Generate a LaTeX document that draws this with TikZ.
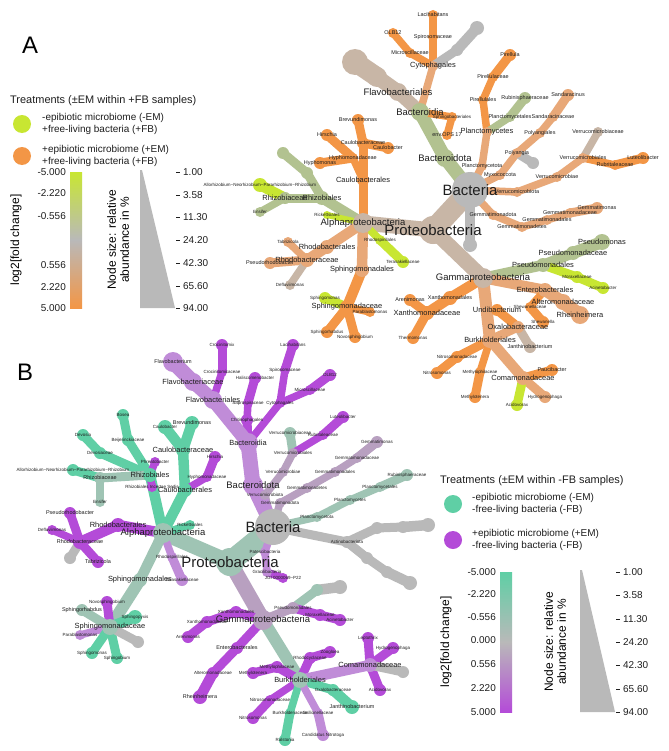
\documentclass[tikz,border=0pt]{standalone}
\usepackage{fontspec}
\setmainfont{Liberation Sans}
\pgfdeclarelayer{back}\pgfdeclarelayer{edge}\pgfdeclarelayer{circ}
\pgfsetlayers{back,edge,circ,main}
\definecolor{G}{RGB}{185,185,185}
\definecolor{T}{RGB}{200,182,166}
\definecolor{LO}{RGB}{232,168,120}
\definecolor{O}{RGB}{243,150,70}
\definecolor{S}{RGB}{178,194,144}
\definecolor{L}{RGB}{200,230,50}
\definecolor{P}{RGB}{180,75,216}
\definecolor{LP}{RGB}{192,140,216}
\definecolor{M}{RGB}{184,160,192}
\definecolor{TE}{RGB}{95,207,165}
\definecolor{GT}{RGB}{159,196,180}
\definecolor{TX}{RGB}{30,30,30}
\tikzset{
 lb0/.style={font=\fontsize{4.5}{5}\selectfont,text=TX,inner sep=0pt},
 lb1/.style={font=\fontsize{5.5}{6}\selectfont,text=TX,inner sep=0pt},
 lb2/.style={font=\fontsize{7.5}{8}\selectfont,text=TX,inner sep=0pt},
 lb3/.style={font=\fontsize{9.5}{10}\selectfont,text=TX,inner sep=0pt},
 lb4/.style={font=\fontsize{15}{16}\selectfont,text=TX,inner sep=0pt},
 leg/.style={font=\fontsize{10}{12}\selectfont,text=TX,align=left,anchor=west,inner sep=0pt},
 legt/.style={font=\fontsize{11}{12}\selectfont,text=TX,anchor=west,inner sep=0pt},
 tick/.style={font=\fontsize{10}{12}\selectfont,text=TX,anchor=west,inner sep=0pt},
 panel/.style={font=\fontsize{24}{26}\selectfont,text=black},
}
\newcommand\tn[8][lb1]{%
 \coordinate (#2) at (#3,#4);
 \begin{pgfonlayer}{edge}\draw[line width={1.5*#6 bp},draw=#7] (#5) -- (#2);\end{pgfonlayer}
 \begin{pgfonlayer}{circ}\fill[#7] (#2) circle (#6 bp);\end{pgfonlayer}
 \node[#1] (#2l) at (#2) {#8};}
\newcommand\tgp[6]{%
 \coordinate (#1) at (#2,#3);
 \begin{pgfonlayer}{edge}\draw[line width={1.5*#5 bp},draw=#6] (#4) -- (#1);\end{pgfonlayer}
 \begin{pgfonlayer}{circ}\fill[#6] (#1) circle (#5 bp);\end{pgfonlayer}}
\begin{document}
\begin{tikzpicture}[x=1bp,y=-1bp]
\useasboundingbox (0,0) rectangle (669,751);
\begin{pgfonlayer}{back}\fill[white] (0,0) rectangle (669,751);\end{pgfonlayer}
% ===== Panel A =====
\node[panel] (pA) at (30,45) {A};
\tn[lb4]{aBac}{470}{190}{aBac}{18}{G}{Bacteria}
\tn[lb4]{aPro}{433}{230}{aBac}{14}{T}{Proteobacteria}
\tn[lb3]{aBtd}{445}{158}{aBac}{9}{S}{Bacteroidota}
\tn[lb3]{aBti}{420}{112}{aBtd}{9}{S}{Bacteroidia}
\tn[lb3]{aFlv}{398}{92}{aBti}{9}{T}{Flavobacteriales}
\tgp{aFl2}{377}{77}{aFlv}{10}{T}
\tgp{aFl3}{355}{62}{aFl2}{13}{T}
\tn[lb2]{aCyt}{433}{66}{aBti}{5}{LO}{Cytophagales}
\tn{aSpi}{433}{37}{aCyt}{5}{O}{Spirosomaceae}
\tn{aLac}{433}{15}{aSpi}{5}{O}{Lacihabitans}
\tn{aMic}{410}{53}{aCyt}{5}{O}{Microscillaceae}
\tn{aOLB}{393}{33}{aMic}{5}{O}{OLB12}
\tgp{aCg1}{457}{50}{aCyt}{6}{G}
\tgp{aCg2}{477}{28}{aCg1}{7}{G}
\tn[lb0]{aSph}{452}{117}{aBti}{5}{O}{Sphingobacteriales}
\tn{aOPS}{447}{135}{aSph}{5}{O}{env.OPS 17}
\tn{aPlo}{482}{166}{aBac}{5}{LO}{Planctomycetota}
\tn[lb2]{aPle}{487}{132}{aPlo}{5}{LO}{Planctomycetes}
\tn{aPir}{483}{100}{aPle}{5}{O}{Pirellulales}
\tn{aPic}{493}{77}{aPir}{5}{O}{Pirellulaceae}
\tn{aPia}{510}{55}{aPic}{6}{O}{Pirellula}
\tn{aPls}{510}{117}{aPle}{5}{S}{Planctomycetales}
\tn{aRub}{525}{98}{aPls}{6}{S}{Rubinisphaeraceae}
\tn{aMyx}{500}{175}{aBac}{5}{LO}{Myxococcota}
\tn{aPoa}{517}{153}{aMyx}{5}{LO}{Polyangia}
\tn{aPos}{540}{133}{aPoa}{5}{LO}{Polyangiales}
\tn{aSac}{553}{117}{aPos}{5}{LO}{Sandaracinaceae}
\tn{aSan}{568}{95}{aSac}{6}{LO}{Sandaracinus}
\tgp{aMg}{533}{163}{aPoa}{6}{G}
\tn{aVta}{517}{192}{aBac}{5}{LO}{Verrucomicrobiota}
\tn[lb1]{aVae}{557}{177}{aVta}{5}{LO}{Verrucomicrobiae}
\tn[lb1]{aVls}{583}{158}{aVae}{5}{LO}{Verrucomicrobiales}
\tn{aVce}{598}{132}{aVls}{5}{T}{Verrucomicrobiaceae}
\tn{aRbt}{615}{165}{aVls}{5}{O}{Rubritaleaceae}
\tn{aLut}{643}{158}{aRbt}{6}{O}{Luteolibacter}
\tn{aGta}{493}{215}{aBac}{5}{LO}{Gemmatimonadota}
\tn{aGte}{522}{227}{aGta}{5}{LO}{Gemmatimonadetes}
\tn{aGls}{547}{220}{aGte}{5}{LO}{Gemmatimonadales}
\tn{aGce}{570}{213}{aGls}{5}{LO}{Gemmatimonadaceae}
\tn{aGms}{597}{208}{aGce}{6}{LO}{Gemmatimonas}
\tgp{aBg}{470}{245}{aBac}{7}{G}
\tn[lb3]{aAlp}{363}{223}{aPro}{10}{T}{Alphaproteobacteria}
\tn[lb2]{aCls}{363}{180}{aAlp}{6}{O}{Caulobacterales}
\tn{aCce}{363}{143}{aCls}{6}{O}{Caulobacteraceae}
\tn{aBre}{358}{120}{aCce}{6}{O}{Brevundimonas}
\tn{aCau}{388}{148}{aCce}{6}{O}{Caulobacter}
\tn{aHyc}{353}{158}{aCls}{5}{O}{Hyphomonadaceae}
\tn{aHir}{327}{135}{aHyc}{6}{O}{Hirschia}
\tn{aHym}{320}{163}{aHyc}{6}{O}{Hyphomonas}
\tn[lb2]{aRhl}{322}{198}{aAlp}{7}{S}{Rhizobiales}
\tn[lb2]{aRhc}{285}{198}{aRhl}{6}{S}{Rhizobiaceae}
\tn[lb0]{aAll}{260}{185}{aRhc}{7}{L}{Allorhizobium−Neorhizobium−Pararhizobium−Rhizobium}
\tn[lb0]{aEns}{260}{212}{aRhc}{5}{S}{Ensifer}
\tgp{aRg1}{307}{173}{aRhl}{6}{S}
\tgp{aRg2}{283}{153}{aRg1}{6}{S}
\tn[lb0]{aRic}{327}{215}{aAlp}{4}{L}{Rickettsiales}
\tn[lb2]{aRbl}{327}{247}{aAlp}{7}{LO}{Rhodobacterales}
\tn[lb2]{aRbc}{307}{260}{aRbl}{7}{LO}{Rhodobacteraceae}
\tn[lb0]{aTab}{288}{242}{aRbc}{5}{LO}{Tabrizicola}
\tn{aPrh}{270}{263}{aRbc}{6}{LO}{Pseudorhodobacter}
\tn[lb0]{aDef}{290}{285}{aRbc}{5}{T}{Defluviimonas}
\tn[lb0]{aRsp}{380}{240}{aAlp}{5}{L}{Rhodospirillales}
\tn[lb0]{aTer}{403}{262}{aRsp}{6}{L}{Terasakiellaceae}
\tn[lb2]{aSml}{362}{270}{aAlp}{7}{LO}{Sphingomonadales}
\tn[lb2]{aSmc}{347}{307}{aSml}{7}{O}{Sphingomonadaceae}
\tn[lb0]{aSms}{325}{298}{aSmc}{6}{L}{Sphingomonas}
\tn[lb0]{aPar}{370}{312}{aSmc}{5}{O}{Parablastomonas}
\tn[lb0]{aSrh}{327}{332}{aSmc}{6}{O}{Sphingorhabdus}
\tn[lb0]{aNov}{355}{337}{aSmc}{6}{O}{Novosphingobium}
\tn[lb3]{aGam}{483}{278}{aPro}{10}{T}{Gammaproteobacteria}
\tn[lb2]{aPsl}{543}{265}{aGam}{7}{S}{Pseudomonadales}
\tn[lb2]{aPsc}{573}{253}{aPsl}{7}{S}{Pseudomonadaceae}
\tn[lb2]{aPsm}{602}{242}{aPsc}{8}{S}{Pseudomonas}
\tn[lb0]{aMor}{577}{277}{aPsl}{6}{L}{Moraxellaceae}
\tn[lb0]{aAci}{603}{288}{aMor}{6}{L}{Acinetobacter}
\tn{aXls}{450}{298}{aGam}{7}{O}{Xanthomonadales}
\tn[lb2]{aXce}{427}{313}{aXls}{7}{O}{Xanthomonadaceae}
\tn{aAre}{410}{300}{aXce}{6}{O}{Arenimonas}
\tn[lb0]{aThe}{413}{338}{aXce}{6}{O}{Thermomonas}
\tn[lb2]{aEnt}{545}{290}{aGam}{7}{LO}{Enterobacterales}
\tn[lb2]{aAlt}{563}{302}{aEnt}{8}{LO}{Alteromonadaceae}
\tn[lb2]{aRhe}{580}{315}{aAlt}{9}{LO}{Rheinheimera}
\tn[lb0]{aShc}{530}{307}{aEnt}{5}{O}{Shewanellaceae}
\tn[lb0]{aShe}{543}{322}{aShc}{6}{O}{Shewanella}
\tn[lb2]{aBur}{490}{340}{aGam}{8}{LO}{Burkholderiales}
\tn[lb2]{aOxa}{518}{327}{aBur}{6}{LO}{Oxalobacteraceae}
\tn[lb2]{aUnd}{497}{310}{aOxa}{6}{O}{Undibacterium}
\tn{aJan}{530}{347}{aOxa}{6}{T}{Janthinobacterium}
\tn[lb0]{aNic}{457}{357}{aBur}{6}{O}{Nitrosomonadaceae}
\tn[lb0]{aNis}{437}{373}{aNic}{6}{O}{Nitrosomonas}
\tn[lb0]{aMec}{480}{372}{aBur}{5}{O}{Methylophilaceae}
\tn[lb0]{aMet}{475}{397}{aMec}{6}{O}{Methylotenera}
\tn[lb2]{aCom}{523}{378}{aBur}{7}{LO}{Comamonadaceae}
\tn{aPau}{552}{370}{aCom}{6}{O}{Paucibacter}
\tn[lb0]{aHyd}{545}{397}{aCom}{6}{LO}{Hydrogenophaga}
\tn[lb0]{aAcv}{517}{405}{aCom}{6}{L}{Acidovorax}
% ===== Legend A =====
\node[legt] (lAt) at (10,101) {Treatments (±EM within +FB samples)};
\fill[L] (22,124) circle (9bp);
\node[leg] (lA1) at (42,124) {-epibiotic microbiome (-EM)\\+free-living bacteria (+FB)};
\fill[O] (22,156) circle (9bp);
\node[leg] (lA2) at (42,156) {+epibiotic microbiome (+EM)\\+free-living bacteria (+FB)};
\shade[top color=L,bottom color=O,middle color=G] (70,172) rectangle (82,308);
\foreach \v/\y in {-5.000/172,-2.220/193,-0.556/216,0.556/265,2.220/287,5.000/308}
 \node[tick,anchor=east] at (66,\y) {\v};
\node[font=\fontsize{12}{13}\selectfont,rotate=90] (lAy) at (16,240) {log2[fold change]};
\fill[G] (140,170) -- (142,170) -- (175,308) -- (140,308) -- cycle;
\foreach \v/\y in {1.00/172,3.58/195,11.30/217,24.20/240,42.30/263,65.60/286,94.00/308}{
 \draw[TX] (176,\y) -- (180,\y);
 \node[tick] at (183,\y) {\v};}
\node[font=\fontsize{12}{13}\selectfont,rotate=90,align=center] (lAs) at (118,240) {Node size: relative\\abundance in \%};
% ===== Panel B =====
\node[panel] (pB) at (25,372) {B};
\tn[lb4]{bBac}{273}{527}{bBac}{18}{G}{Bacteria}
\tn[lb4]{bPro}{230}{562}{bBac}{14}{GT}{Proteobacteria}
\tn[lb3]{bAlp}{163}{533}{bPro}{10}{GT}{Alphaproteobacteria}
\tn[lb0]{bAct}{347}{542}{bBac}{6}{G}{Actinobacteriota}
\tgp{bA1}{377}{528}{bAct}{6}{G}\tgp{bA2}{403}{527}{bA1}{6}{G}\tgp{bA3}{428}{525}{bA2}{7}{G}
\tgp{bA4}{367}{558}{bAct}{6}{G}\tgp{bA5}{387}{572}{bA4}{6}{G}\tgp{bA6}{410}{583}{bA5}{7}{G}
\tn[lb0]{bPat}{265}{552}{bBac}{5}{LP}{Patescibacteria}
\tn[lb0]{bGra}{267}{572}{bPat}{5}{LP}{Gracilibacteria}
\tn[lb0]{bJGI}{283}{578}{bGra}{5}{P}{JGI 0000069−P22}
\tn[lb0]{bPlo}{317}{517}{bBac}{5}{GT}{Planctomycetota}
\tn[lb0]{bPle}{350}{500}{bPlo}{5}{GT}{Planctomycetes}
\tn[lb0]{bPls}{380}{487}{bPle}{5}{GT}{Planctomycetales}
\tn[lb0]{bRub}{407}{475}{bPls}{6}{GT}{Rubinisphaeraceae}
\tn[lb0]{bGta}{280}{503}{bBac}{5}{M}{Gemmatimonadota}
\tn[lb0]{bGte}{307}{488}{bGta}{5}{M}{Gemmatimonadetes}
\tn[lb0]{bGls}{335}{472}{bGte}{5}{M}{Gemmatimonadales}
\tn[lb0]{bGce}{357}{458}{bGls}{5}{M}{Gemmatimonadaceae}
\tn[lb0]{bGms}{377}{442}{bGce}{6}{M}{Gemmatimonas}
\tn[lb0]{bVta}{265}{495}{bBac}{5}{M}{Verrucomicrobiota}
\tn[lb0]{bVae}{283}{472}{bVta}{5}{M}{Verrucomicrobiae}
\tn[lb0]{bVls}{293}{453}{bVae}{5}{M}{Verrucomicrobiales}
\tn[lb0]{bVce}{290}{433}{bVls}{6}{GT}{Verrucomicrobiaceae}
\tn[lb0]{bRbt}{323}{435}{bVls}{5}{P}{Rubritaleaceae}
\tn[lb0]{bLut}{343}{417}{bRbt}{6}{P}{Luteolibacter}
\tn[lb3]{bBtd}{253}{485}{bBac}{10}{LP}{Bacteroidota}
\tn[lb2]{bBti}{248}{443}{bBtd}{10}{LP}{Bacteroidia}
\tn[lb0]{bChi}{247}{420}{bBti}{6}{P}{Chitinophagales}
\tn[lb0]{bSap}{248}{403}{bChi}{5}{P}{Saprospiraceae}
\tn[lb0]{bHal}{255}{378}{bSap}{6}{P}{Haliscomenobacter}
\tn[lb2]{bFls}{213}{400}{bBti}{9}{LP}{Flavobacteriales}
\tn[lb2]{bFlc}{193}{382}{bFls}{9}{LP}{Flavobacteriaceae}
\tn[lb1]{bFlm}{173}{362}{bFlc}{10}{LP}{Flavobacterium}
\tn[lb0]{bCrc}{222}{372}{bFls}{5}{P}{Crocinitomicaceae}
\tn[lb0]{bCrx}{222}{345}{bCrc}{6}{P}{Crocinitomix}
\tn[lb0]{bCyt}{280}{403}{bBti}{5}{P}{Cytophagales}
\tn[lb0]{bSpi}{285}{370}{bCyt}{5}{P}{Spirosomaceae}
\tn[lb0]{bLac}{293}{345}{bSpi}{6}{P}{Lacihabitans}
\tn[lb0]{bMic}{310}{390}{bCyt}{5}{P}{Microscillaceae}
\tn[lb0]{bOLB}{330}{375}{bMic}{6}{P}{OLB12}
\tn[lb2]{bCls}{185}{490}{bAlp}{7}{TE}{Caulobacterales}
\tn[lb2]{bCce}{183}{450}{bCls}{7}{TE}{Caulobacteraceae}
\tn[lb0]{bCau}{165}{427}{bCce}{7}{TE}{Caulobacter}
\tn[lb1]{bBre}{192}{423}{bCce}{7}{TE}{Brevundimonas}
\tn[lb0]{bHyc}{207}{477}{bCls}{5}{P}{Hyphomonadaceae}
\tn[lb0]{bHir}{215}{457}{bHyc}{6}{P}{Hirschia}
\tn[lb2]{bRhl}{150}{475}{bAlp}{7}{TE}{Rhizobiales}
\tn[lb0]{bBei}{128}{440}{bRhl}{6}{TE}{Beijerinckiaceae}
\tn[lb0]{bBos}{123}{415}{bBei}{6}{TE}{Bosea}
\tn[lb0]{bDvc}{100}{453}{bRhl}{6}{TE}{Devosiaceae}
\tn[lb0]{bDvs}{83}{435}{bDvc}{6}{TE}{Devosia}
\tn[lb1]{bRhc}{100}{478}{bRhl}{6}{GT}{Rhizobiaceae}
\tn[lb0]{bAll}{73}{470}{bRhc}{6}{TE}{Allorhizobium−Neorhizobium−Pararhizobium−Rhizobium}
\tn[lb0]{bEns}{100}{502}{bRhc}{5}{GT}{Ensifer}
\tn[lb0]{bPhr}{155}{462}{bRhl}{5}{P}{Phreatobacter}
\tn[lb0]{bInc}{152}{487}{bRhl}{5}{P}{Rhizobiales Incertae Sedis}
\tn[lb0]{bRic}{190}{525}{bAlp}{5}{TE}{Rickettsiales}
\tn[lb2]{bRbl}{118}{525}{bAlp}{7}{P}{Rhodobacterales}
\tn[lb1]{bRbc}{80}{542}{bRbl}{7}{P}{Rhodobacteraceae}
\tn[lb1]{bPrh}{70}{513}{bRbc}{6}{P}{Pseudorhodobacter}
\tn[lb0]{bDef}{52}{530}{bRbc}{5}{P}{Defluviimonas}
\tgp{bRg}{70}{558}{bRbc}{6}{G}
\tn[lb1]{bTab}{98}{562}{bRbc}{6}{P}{Tabrizicola}
\tn[lb0]{bRsp}{172}{557}{bAlp}{5}{LP}{Rhodospirillales}
\tn[lb0]{bTer}{182}{580}{bRsp}{6}{LP}{Terasakiellaceae}
\tn[lb2]{bSml}{140}{580}{bAlp}{7}{GT}{Sphingomonadales}
\tn[lb2]{bSmc}{110}{627}{bSml}{8}{GT}{Sphingomonadaceae}
\tn[lb0]{bNov}{107}{602}{bSmc}{6}{P}{Novosphingobium}
\tn[lb1]{bSrh}{82}{610}{bSmc}{6}{GT}{Sphingorhabdus}
\tn[lb0]{bSpx}{135}{617}{bSmc}{7}{TE}{Sphingopyxis}
\tn[lb0]{bPar}{80}{635}{bSmc}{5}{LP}{Parablastomonas}
\tn[lb0]{bSms}{92}{653}{bSmc}{6}{TE}{Sphingomonas}
\tn[lb0]{bSbi}{117}{658}{bSmc}{6}{TE}{Sphingobium}
\tgp{bSg}{138}{642}{bSmc}{6}{G}
\tn[lb3]{bGam}{263}{620}{bPro}{10}{M}{Gammaproteobacteria}
\tn[lb0]{bPsl}{293}{608}{bGam}{6}{M}{Pseudomonadales}
\tgp{bPg1}{317}{590}{bPsl}{6}{GT}
\tgp{bPg2}{340}{587}{bPg1}{7}{G}
\tn[lb0]{bMor}{320}{615}{bPsl}{6}{P}{Moraxellaceae}
\tn[lb0]{bAci}{340}{620}{bMor}{6}{P}{Acinetobacter}
\tn[lb0]{bXls}{236}{612}{bGam}{6}{P}{Xanthomonadales}
\tn[lb0]{bXce}{207}{622}{bXls}{6}{P}{Xanthomonadaceae}
\tn[lb0]{bAre}{188}{637}{bXce}{6}{P}{Arenimonas}
\tn[lb1]{bEnt}{237}{648}{bGam}{6}{P}{Enterobacterales}
\tn[lb0]{bAlt}{213}{673}{bEnt}{6}{P}{Alteromonadaceae}
\tn[lb1]{bRhe}{200}{697}{bAlt}{7}{P}{Rheinheimera}
\tn[lb2]{bBur}{300}{680}{bGam}{8}{GT}{Burkholderiales}
\tn[lb0]{bRcy}{310}{658}{bBur}{6}{P}{Rhodocyclaceae}
\tn[lb0]{bZoo}{330}{652}{bRcy}{6}{P}{Zoogloea}
\tn[lb0]{bMec}{277}{667}{bBur}{6}{P}{Methylophilaceae}
\tn[lb0]{bMet}{253}{673}{bMec}{6}{P}{Methylotenera}
\tn[lb2]{bCom}{370}{665}{bBur}{7}{LP}{Comamonadaceae}
\tn[lb0]{bLep}{368}{638}{bCom}{6}{P}{Leptothrix}
\tn[lb0]{bHyd}{393}{648}{bCom}{6}{P}{Hydrogenophaga}
\tn[lb0]{bAcv}{380}{690}{bCom}{6}{P}{Acidovorax}
\tgp{bCg}{403}{672}{bCom}{6}{G}
\tn[lb0]{bOxa}{333}{690}{bBur}{6}{TE}{Oxalobacteraceae}
\tn[lb1]{bJan}{352}{707}{bOxa}{7}{TE}{Janthinobacterium}
\tn[lb0]{bNic}{270}{700}{bBur}{5}{P}{Nitrosomonadaceae}
\tn[lb0]{bNis}{253}{718}{bNic}{6}{P}{Nitrosomonas}
\tn[lb0]{bBuc}{290}{713}{bBur}{5}{TE}{Burkholderiaceae}
\tn[lb0]{bRal}{285}{740}{bBuc}{6}{TE}{Ralstonia}
\tn[lb0]{bGal}{318}{713}{bBur}{5}{LP}{Gallionellaceae}
\tn[lb0]{bNit}{323}{735}{bGal}{6}{LP}{Candidatus Nitrotoga}
% ===== Legend B =====
\node[legt] (lBt) at (440,481) {Treatments (±EM within -FB samples)};
\fill[TE] (453,504) circle (9bp);
\node[leg] (lB1) at (472,504) {-epibiotic microbiome (-EM)\\-free-living bacteria (-FB)};
\fill[P] (453,540) circle (9bp);
\node[leg] (lB2) at (472,540) {+epibiotic microbiome (+EM)\\-free-living bacteria (-FB)};
\shade[top color=TE,bottom color=P,middle color=G] (500,572) rectangle (512,712);
\foreach \v/\y in {-5.000/572,-2.220/594,-0.556/617,0.000/640,0.556/664,2.220/688,5.000/712}
 \node[tick,anchor=east] at (496,\y) {\v};
\node[font=\fontsize{12}{13}\selectfont,rotate=90] (lBy) at (446,642) {log2[fold change]};
\fill[G] (580,570) -- (582,570) -- (615,712) -- (580,712) -- cycle;
\foreach \v/\y in {1.00/572,3.58/595,11.30/619,24.20/642,42.30/665,65.60/689,94.00/712}{
 \draw[TX] (616,\y) -- (620,\y);
 \node[tick] at (623,\y) {\v};}
\node[font=\fontsize{12}{13}\selectfont,rotate=90,align=center] (lBs) at (555,642) {Node size: relative\\abundance in \%};
\end{tikzpicture}
\end{document}
